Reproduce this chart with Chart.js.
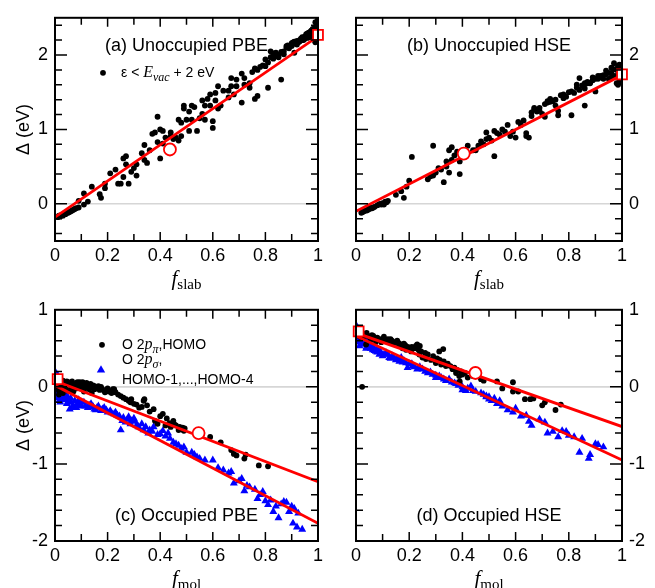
<!DOCTYPE html>
<html>
<head>
<meta charset="utf-8">
<script src="https://cdn.jsdelivr.net/npm/chart.js@4.4.0/dist/chart.umd.min.js"></script>
<style>
html, body { margin: 0; padding: 0; background: #fff; }
#wrap { position: relative; width: 655px; height: 588px; overflow: hidden; }
canvas { position: absolute; }
</style>
</head>
<body>
<div id="wrap">
  <canvas id="pa" width="327" height="290" style="left:0;top:0"></canvas>
  <canvas id="pb" width="327" height="290" style="left:328px;top:0"></canvas>
  <canvas id="pc" width="327" height="296" style="left:0;top:292px"></canvas>
  <canvas id="pd" width="327" height="296" style="left:328px;top:292px"></canvas>
</div>
<script>
// ---- data: [f, Delta (eV)] ----
const unoccPBE = [[0.01,-0.18],[0.02,-0.17],[0.025,-0.15],[0.03,-0.16],[0.035,-0.13],[0.04,-0.14],[0.045,-0.12],[0.05,-0.12],
  [0.06,-0.10],[0.065,-0.09],[0.075,-0.07],[0.08,-0.06],[0.09,0.04],[0.09,-0.05],[0.11,0.14],[0.11,-0.01],[0.125,0.03],
  [0.14,0.23],[0.17,0.13],[0.175,0.08],[0.19,0.21],[0.19,0.27],[0.21,0.41],[0.23,0.46],[0.24,0.27],[0.25,0.27],[0.26,0.36],
  [0.26,0.61],[0.27,0.64],[0.27,0.53],[0.28,0.27],[0.29,0.43],[0.3,0.48],[0.31,0.38],[0.31,0.53],[0.33,0.68],[0.34,0.79],
  [0.34,0.59],[0.35,0.55],[0.36,0.72],[0.37,0.94],[0.38,0.96],[0.39,1.17],[0.39,0.83],[0.4,0.61],[0.4,1.0],[0.41,0.98],
  [0.41,0.81],[0.42,0.89],[0.43,0.76],[0.44,0.96],[0.44,0.91],[0.45,0.87],[0.46,0.89],[0.47,1.13],[0.47,0.85],[0.48,0.91],
  [0.48,1.09],[0.49,1.32],[0.49,1.28],[0.5,1.13],[0.51,0.98],[0.51,1.24],[0.52,1.32],[0.52,1.13],[0.53,1.3],[0.54,0.98],
  [0.55,1.15],[0.56,1.21],[0.56,1.39],[0.57,1.13],[0.57,1.32],[0.58,1.41],[0.59,1.47],[0.59,1.32],[0.6,1.02],[0.6,1.11],
  [0.61,1.39],[0.61,1.49],[0.62,1.28],[0.62,1.58],[0.63,1.32],[0.64,1.52],[0.66,1.43],[0.66,1.52],[0.67,1.58],[0.67,1.69],
  [0.68,1.47],[0.69,1.58],[0.69,1.67],[0.71,1.75],[0.71,1.36],[0.72,1.6],[0.72,1.69],[0.74,1.56],[0.74,1.62],[0.75,1.77],
  [0.76,1.41],[0.76,1.82],[0.77,1.45],[0.78,1.84],[0.79,1.86],[0.8,1.94],[0.81,1.56],[0.81,1.9],[0.82,1.97],[0.82,2.05],
  [0.84,1.99],[0.84,2.03],[0.85,1.97],[0.86,1.67],[0.87,2.01],[0.87,2.05],[0.88,2.12],[0.89,2.09],[0.9,2.16],[0.91,2.03],
  [0.91,2.18],[0.92,2.14],[0.93,2.2],[0.94,2.24],[0.94,2.22],[0.95,2.25],[0.96,2.27],[0.96,2.29],[0.97,2.31],[0.97,2.24],
  [0.98,2.35],[0.98,2.28],[0.99,2.18],[0.99,2.44],[1.0,2.48],[0.99,2.27],[0.99,2.37],[0.985,2.32],[0.995,2.25],[0.975,2.3],
  [0.965,2.26],[0.955,2.24],[0.945,2.2],[0.925,2.17],[0.935,2.22],[0.88,2.1],[0.885,2.13],[0.9,2.12],[0.905,2.17],
  [0.915,2.15],[0.92,2.19],[0.93,2.18],[0.94,2.2],[0.95,2.22],[0.955,2.28],[0.96,2.23],[0.965,2.3],[0.97,2.27],[0.98,2.3],
  [0.985,2.25],[0.99,2.22],[0.995,2.3],[1.0,2.35],[1.0,2.42],[0.995,2.4],[0.99,2.17],[1.0,2.2],[0.975,2.33],[0.77,1.8],
  [0.8,1.85],[0.83,1.95],[0.85,2.0],[0.86,2.04],[0.83,2.02],[0.015,-0.16],[0.055,-0.11],[0.07,-0.08]];

const unoccHSE = [[0.02,-0.12],[0.03,-0.1],[0.03,-0.09],[0.04,-0.09],[0.05,-0.07],[0.05,-0.05],[0.06,-0.06],[0.07,-0.04],
  [0.08,-0.02],[0.085,-0.01],[0.09,0.0],[0.1,0.01],[0.105,-0.01],[0.11,0.03],[0.12,0.04],[0.15,0.12],[0.17,0.17],[0.18,0.08],
  [0.19,0.23],[0.2,0.31],[0.21,0.63],[0.27,0.33],[0.28,0.37],[0.29,0.78],[0.29,0.38],[0.3,0.42],[0.31,0.48],[0.32,0.46],
  [0.33,0.29],[0.34,0.5],[0.34,0.57],[0.35,0.42],[0.35,0.72],[0.36,0.76],[0.36,0.59],[0.37,0.65],[0.38,0.7],[0.39,0.4],
  [0.39,0.57],[0.42,0.78],[0.44,0.72],[0.45,0.72],[0.46,0.78],[0.47,0.84],[0.48,0.8],[0.49,0.96],[0.49,0.87],[0.5,0.89],
  [0.51,0.85],[0.52,0.64],[0.52,0.98],[0.53,0.95],[0.54,0.93],[0.55,1.0],[0.56,0.97],[0.57,1.06],[0.58,0.91],[0.59,0.97],
  [0.6,0.89],[0.61,1.1],[0.62,1.06],[0.63,1.12],[0.64,0.95],[0.64,0.91],[0.65,0.89],[0.66,1.18],[0.66,1.23],[0.67,1.27],
  [0.67,1.29],[0.68,1.24],[0.69,1.29],[0.69,1.25],[0.7,1.21],[0.71,1.17],[0.71,1.34],[0.72,1.38],[0.72,1.36],[0.74,1.38],
  [0.75,1.32],[0.76,1.25],[0.76,1.19],[0.77,1.46],[0.79,1.44],[0.81,1.19],[0.81,1.51],[0.82,1.49],[0.84,1.53],[0.84,1.69],
  [0.85,1.59],[0.86,1.55],[0.86,1.32],[0.87,1.62],[0.87,1.64],[0.89,1.66],[0.9,1.51],[0.91,1.68],[0.91,1.72],[0.92,1.7],
  [0.94,1.74],[0.94,1.79],[0.95,1.68],[0.96,1.76],[0.96,1.83],[0.97,1.89],[0.97,1.81],[0.98,1.62],[0.99,1.87],[0.99,1.64],
  [0.98,1.72],[0.93,1.73],[0.88,1.62],[0.83,1.56],[0.78,1.42],[0.73,1.37],[0.88,1.63],[0.9,1.68],[0.92,1.72],[0.93,1.68],
  [0.95,1.76],[0.96,1.7],[0.97,1.72],[0.98,1.8],[0.985,1.85],[0.99,1.78],[0.995,1.69],[1.0,1.82],[1.0,1.66],[0.985,1.6],
  [0.89,1.7],[0.86,1.62],[0.83,1.6],[0.8,1.5],[0.78,1.47],[0.75,1.4],[0.73,1.41],[0.025,-0.11],[0.045,-0.08],[0.065,-0.05],
  [0.095,-0.01],[0.115,0.02]];

const occPBEpi = [[0.005,0.05],[0.01,0.0],[0.015,-0.05],[0.02,0.03],[0.03,0.08],[0.035,0.02],[0.04,0.04],[0.05,0.06],
  [0.06,0.03],[0.075,0.03],[0.08,-0.02],[0.085,0.06],[0.094,0.06],[0.1,0.05],[0.11,0.01],[0.12,0.05],[0.125,0.03],
  [0.137,0.01],[0.14,0.0],[0.15,0.01],[0.156,-0.01],[0.16,-0.02],[0.13,-0.03],[0.1,-0.02],[0.06,-0.03],[0.04,-0.02],
  [0.02,-0.05],[0.18,-0.03],[0.187,-0.05],[0.19,-0.07],[0.2,-0.02],[0.22,-0.03],[0.225,-0.03],[0.23,-0.07],[0.25,-0.12],
  [0.27,-0.16],[0.287,-0.2],[0.29,-0.16],[0.3,-0.22],[0.32,-0.27],[0.337,-0.18],[0.34,-0.16],[0.35,-0.24],[0.36,-0.32],
  [0.375,-0.29],[0.38,-0.44],[0.39,-0.48],[0.41,-0.35],[0.42,-0.5],[0.425,-0.41],[0.44,-0.52],[0.45,-0.44],[0.46,-0.5],
  [0.47,-0.56],[0.474,-0.52],[0.48,-0.55],[0.49,-0.57],[0.493,-0.54],[0.59,-0.65],[0.63,-0.72],[0.67,-0.82],[0.68,-0.87],
  [0.69,-0.89],[0.72,-0.93],[0.725,-0.88],[0.775,-1.02],[0.81,-1.03],[0.0,0.1],[0.005,0.0],[0.01,0.06],[0.02,0.07],
  [0.03,0.04],[0.045,0.07],[0.055,0.04],[0.065,0.07],[0.07,0.01],[0.09,0.0],[0.095,0.04],[0.105,0.06],[0.115,0.03],
  [0.12,-0.01],[0.135,0.04],[0.145,0.02],[0.15,-0.03],[0.165,0.01],[0.17,-0.04],[0.175,0.0],[0.05,-0.05],[0.03,-0.08],
  [0.015,-0.1],[0.07,-0.06],[0.11,-0.06],[0.14,-0.08],[0.205,-0.06],[0.215,-0.08],[0.24,-0.1],[0.26,-0.14],[0.28,-0.18],
  [0.31,-0.23],[0.33,-0.26],[0.4,-0.38],[0.435,-0.47],[0.455,-0.49],[0.485,-0.53]];

const occPBEsigma = [[0.0,0.2],[0.0,0.1],[0.006,0.16],[0.006,-0.07],[0.01,0.15],[0.012,-0.14],[0.015,0.05],[0.025,-0.16],
  [0.025,0.08],[0.037,-0.12],[0.04,-0.1],[0.05,-0.2],[0.056,-0.29],[0.06,-0.15],[0.069,-0.24],[0.081,-0.27],[0.09,-0.17],
  [0.094,-0.24],[0.11,-0.2],[0.125,-0.27],[0.137,-0.22],[0.15,-0.29],[0.16,-0.27],[0.175,-0.31],[0.187,-0.27],[0.2,-0.33],
  [0.21,-0.31],[0.225,-0.35],[0.237,-0.37],[0.25,-0.56],[0.256,-0.44],[0.268,-0.46],[0.28,-0.39],[0.287,-0.48],[0.3,-0.41],
  [0.31,-0.5],[0.318,-0.52],[0.337,-0.56],[0.36,-0.56],[0.375,-0.52],[0.4,-0.61],[0.41,-0.57],[0.437,-0.67],[0.45,-0.72],
  [0.47,-0.76],[0.49,-0.78],[0.5,-0.85],[0.52,-0.85],[0.54,-0.91],[0.57,-0.95],[0.6,-0.95],[0.64,-1.08],[0.67,-1.1],
  [0.68,-1.25],[0.71,-1.19],[0.72,-1.35],[0.74,-1.3],[0.76,-1.33],[0.77,-1.45],[0.79,-1.36],[0.8,-1.48],[0.81,-1.53],
  [0.82,-1.47],[0.83,-1.62],[0.84,-1.55],[0.85,-1.7],[0.87,-1.49],[0.88,-1.5],[0.89,-1.62],[0.9,-1.55],[0.905,-1.77],
  [0.91,-1.58],[0.92,-1.82],[0.925,-1.64],[0.94,-1.85],[0.0,0.15],[0.0,0.0],[0.0,-0.1],[0.005,0.12],[0.01,-0.02],
  [0.015,-0.18],[0.02,0.0],[0.02,-0.2],[0.03,-0.06],[0.035,-0.17],[0.045,-0.22],[0.05,-0.14],[0.06,-0.2],[0.065,-0.27],
  [0.075,-0.18],[0.085,-0.22],[0.1,-0.25],[0.1,-0.2],[0.115,-0.25],[0.13,-0.24],[0.145,-0.26],[0.155,-0.3],[0.165,-0.25],
  [0.18,-0.29],[0.195,-0.3],[0.215,-0.34],[0.23,-0.33],[0.245,-0.38],[0.26,-0.4],[0.275,-0.42],[0.29,-0.44],[0.305,-0.45],
  [0.33,-0.48],[0.345,-0.52],[0.355,-0.6],[0.37,-0.58],[0.39,-0.62],[0.42,-0.64],[0.43,-0.6],[0.46,-0.74],[0.48,-0.8],
  [0.53,-0.88],[0.55,-0.93],[0.62,-1.05],[0.66,-1.12],[0.7,-1.22],[0.73,-1.28],[0.78,-1.4],[0.86,-1.52]];

const occHSEpi = [[0.005,0.75],[0.01,0.7],[0.015,0.65],[0.023,0.0],[0.025,0.65],[0.03,0.66],[0.038,0.55],[0.04,0.7],
  [0.05,0.65],[0.056,0.61],[0.065,0.66],[0.075,0.59],[0.088,0.61],[0.1,0.62],[0.105,0.65],[0.113,0.61],[0.125,0.59],
  [0.13,0.62],[0.138,0.57],[0.15,0.57],[0.155,0.6],[0.163,0.53],[0.175,0.5],[0.18,0.56],[0.188,0.48],[0.2,0.5],
  [0.207,0.46],[0.225,0.53],[0.23,0.55],[0.238,0.42],[0.24,0.53],[0.25,0.38],[0.263,0.36],[0.282,0.35],[0.3,0.31],
  [0.313,0.46],[0.32,0.29],[0.328,0.49],[0.338,0.27],[0.363,0.23],[0.376,0.18],[0.388,0.14],[0.39,0.07],[0.4,0.16],
  [0.42,0.12],[0.44,0.14],[0.47,0.1],[0.48,0.08],[0.53,0.07],[0.55,-0.02],[0.59,0.06],[0.59,-0.06],[0.61,-0.06],
  [0.635,-0.16],[0.655,-0.16],[0.667,-0.15],[0.7,-0.24],[0.71,-0.2],[0.75,-0.3],[0.77,-0.23],[0.01,0.72],[0.02,0.7],
  [0.03,0.69],[0.045,0.66],[0.06,0.67],[0.07,0.63],[0.08,0.64],[0.09,0.62],[0.095,0.58],[0.11,0.6],[0.12,0.62],
  [0.135,0.6],[0.145,0.58],[0.16,0.57],[0.17,0.55],[0.185,0.54],[0.195,0.52],[0.21,0.52],[0.22,0.5],[0.235,0.48],
  [0.245,0.46],[0.26,0.44],[0.27,0.42],[0.29,0.4],[0.305,0.37],[0.315,0.35],[0.33,0.33],[0.345,0.3],[0.355,0.27],
  [0.37,0.25],[0.38,0.22],[0.395,0.2],[0.41,0.18]];

const occHSEsigma = [[0.0,0.8],[0.006,0.7],[0.01,0.62],[0.013,0.53],[0.02,0.6],[0.025,0.59],[0.03,0.63],[0.038,0.5],
  [0.05,0.55],[0.06,0.53],[0.063,0.48],[0.075,0.46],[0.08,0.5],[0.088,0.42],[0.1,0.4],[0.113,0.44],[0.125,0.38],
  [0.138,0.4],[0.15,0.35],[0.163,0.33],[0.17,0.38],[0.188,0.31],[0.194,0.25],[0.213,0.27],[0.23,0.23],[0.25,0.23],
  [0.27,0.18],[0.288,0.16],[0.3,0.12],[0.313,0.14],[0.338,0.08],[0.35,0.1],[0.376,0.04],[0.4,0.0],[0.4,-0.04],
  [0.413,-0.05],[0.432,0.01],[0.44,-0.05],[0.49,-0.12],[0.49,-0.13],[0.5,-0.16],[0.51,-0.18],[0.53,-0.22],[0.54,-0.18],
  [0.55,-0.25],[0.57,-0.3],[0.59,-0.33],[0.6,-0.28],[0.62,-0.38],[0.64,-0.37],[0.65,-0.45],[0.66,-0.5],[0.69,-0.42],
  [0.71,-0.46],[0.72,-0.6],[0.74,-0.58],[0.76,-0.65],[0.775,-0.57],[0.79,-0.58],[0.8,-0.63],[0.82,-0.65],[0.84,-0.85],
  [0.85,-0.67],[0.875,-0.93],[0.88,-0.88],[0.9,-0.74],[0.91,-0.75],[0.93,-0.78],[0.0,0.72],[0.005,0.65],[0.01,0.58],
  [0.015,0.63],[0.02,0.55],[0.03,0.57],[0.04,0.52],[0.045,0.6],[0.055,0.5],[0.065,0.52],[0.07,0.47],[0.08,0.45],
  [0.09,0.47],[0.095,0.43],[0.105,0.42],[0.12,0.42],[0.13,0.37],[0.14,0.38],[0.155,0.37],[0.165,0.36],[0.175,0.32],
  [0.18,0.34],[0.2,0.3],[0.21,0.3],[0.22,0.26],[0.24,0.26],[0.26,0.2],[0.28,0.19],[0.3,0.15],[0.32,0.12],[0.33,0.1],
  [0.36,0.06],[0.37,0.05],[0.385,0.02],[0.42,-0.02],[0.45,-0.06],[0.47,-0.08],[0.48,-0.1],[0.5,-0.13],[0.52,-0.15]];

// linear fits (end points) and the red reference markers
const fitUnoccPBE = [[0, -0.18], [1, 2.25]];
const fitUnoccHSE = [[0, -0.10], [1, 1.73]];
const fitOccPBEpi = [[0, 0.08], [1, -1.23]];
const fitOccPBEsigma = [[0, 0.02], [1, -1.77]];
const fitOccHSEpi = [[0, 0.70], [1, -0.515]];
const fitOccHSEsigma = [[0, 0.66], [1, -0.95]];
const circleMarks = { a: [0.437, 0.73], b: [0.405, 0.675], c: [0.546, -0.6], d: [0.449, 0.18] };
const squareMarks = { a: [1.0, 2.27], b: [1.0, 1.74], c: [0.01, 0.1], d: [0.01, 0.72] };

// ticks
const xLabels = [0, 0.2, 0.4, 0.6, 0.8, 1];
const xTickPos = [0.1, 0.2, 0.3, 0.4, 0.5, 0.6, 0.7, 0.8, 0.9];
const yLabelsUnocc = [0, 1, 2];
const yTickPosUnocc = [-0.4, -0.2, 0, 0.2, 0.4, 0.6, 0.8, 1, 1.2, 1.4, 1.6, 1.8, 2, 2.2, 2.4];
const yLabelsOcc = [-2, -1, 0, 1];
const yTickPosOcc = [-1.8, -1.6, -1.4, -1.2, -1, -0.8, -0.6, -0.4, -0.2, 0, 0.2, 0.4, 0.6, 0.8];

const SANS = '"Liberation Sans", Arial, sans-serif';
const SERIF = '"Liberation Serif", "Times New Roman", serif';
const RED = '#ff0000';
const BLUE = '#0000ff';

const pts = arr => arr.map(p => ({ x: p[0], y: p[1] }));

function drawRuns(ctx, x, y, runs, align) {
  let w = 0;
  runs.forEach(r => { ctx.font = r.font; r.w = ctx.measureText(r.t).width; w += r.w; });
  let cx = align === 'center' ? x - w / 2 : x;
  ctx.textBaseline = 'alphabetic';
  ctx.textAlign = 'left';
  runs.forEach(r => { ctx.font = r.font; ctx.fillText(r.t, cx, y + (r.dy || 0)); cx += r.w; });
}

function dot(ctx, x, y) {
  ctx.fillStyle = '#000';
  ctx.beginPath(); ctx.arc(x, y, 2.9, 0, Math.PI * 2); ctx.fill();
}
function tri(ctx, x, y) {
  ctx.fillStyle = BLUE;
  ctx.beginPath(); ctx.moveTo(x, y - 4.6); ctx.lineTo(x + 4.2, y + 2.6); ctx.lineTo(x - 4.2, y + 2.6); ctx.closePath(); ctx.fill();
}

// frame, inward ticks, zero line and the texts inside each panel
function deco(cfg) {
  return {
    id: 'deco',
    beforeDatasetsDraw(chart) {
      const { ctx, chartArea: a, scales: { y } } = chart;
      const y0 = y.getPixelForValue(0);
      ctx.save();
      ctx.strokeStyle = '#d6d6d6'; ctx.lineWidth = 1.6;
      ctx.beginPath(); ctx.moveTo(a.left, y0); ctx.lineTo(a.right, y0); ctx.stroke();
      ctx.restore();
    },
    afterDraw(chart) {
      const { ctx, chartArea: a, scales: { x, y } } = chart;
      ctx.save();
      ctx.strokeStyle = '#000';
      ctx.lineWidth = 1.5;
      ctx.beginPath();
      xTickPos.forEach(v => {
        const px = x.getPixelForValue(v);
        const len = Math.abs(v * 5 - Math.round(v * 5)) < 1e-6 ? 9 : 7;
        ctx.moveTo(px, a.bottom); ctx.lineTo(px, a.bottom - len);
        ctx.moveTo(px, a.top); ctx.lineTo(px, a.top + len);
      });
      cfg.yTicks.forEach(v => {
        const py = y.getPixelForValue(v);
        const len = Math.abs(v - Math.round(v)) < 1e-6 ? 12 : 7;
        ctx.moveTo(a.left, py); ctx.lineTo(a.left + len, py);
        ctx.moveTo(a.right, py); ctx.lineTo(a.right - len, py);
      });
      ctx.stroke();
      ctx.lineWidth = 2;
      ctx.strokeRect(a.left, a.top, a.right - a.left, a.bottom - a.top);

      ctx.fillStyle = '#000';
      const cx = (a.left + a.right) / 2;
      const ty = cfg.titleTop ? a.top + 33 : a.bottom - 20;
      drawRuns(ctx, cx, ty, [{ t: cfg.title, font: '18px ' + SANS }], 'center');
      drawRuns(ctx, cx, a.bottom + 44, [
        { t: 'f', font: 'italic 21px ' + SERIF },
        { t: cfg.sub, font: '15px ' + SERIF, dy: 4 }
      ], 'center');
      if (cfg.legend) cfg.legend(ctx, a);
      ctx.restore();
    }
  };
}

function legendA(ctx, a) {
  dot(ctx, a.left + 48, a.top + 55);
  ctx.fillStyle = '#000';
  drawRuns(ctx, a.left + 66, a.top + 59, [
    { t: 'ε < ', font: '14px ' + SANS },
    { t: 'E', font: 'italic 16px ' + SERIF },
    { t: 'vac', font: 'italic 12px ' + SERIF, dy: 4 },
    { t: ' + 2 eV', font: '14px ' + SANS }
  ]);
}
function legendC(ctx, a) {
  dot(ctx, a.left + 47, a.top + 35);
  tri(ctx, a.left + 46, a.top + 60);
  ctx.fillStyle = '#000';
  drawRuns(ctx, a.left + 67, a.top + 39, [
    { t: 'O 2', font: '14px ' + SANS },
    { t: 'p', font: 'italic 16px ' + SERIF },
    { t: 'π', font: 'italic 12px ' + SERIF, dy: 4 },
    { t: ',HOMO', font: '14px ' + SANS }
  ]);
  drawRuns(ctx, a.left + 67, a.top + 54, [
    { t: 'O 2', font: '14px ' + SANS },
    { t: 'p', font: 'italic 16px ' + SERIF },
    { t: 'σ', font: 'italic 12px ' + SERIF, dy: 4 },
    { t: ',', font: '14px ' + SANS }
  ]);
  drawRuns(ctx, a.left + 67, a.top + 74, [{ t: 'HOMO-1,...,HOMO-4', font: '14px ' + SANS }]);
}

function fitSet(line) {
  return { data: pts(line), showLine: true, borderColor: RED, borderWidth: 2.8, pointRadius: 0, fill: false };
}
function markSet(p, style, r) {
  return { data: pts([p]), pointStyle: style, pointRadius: r, pointBorderColor: RED, pointBackgroundColor: '#fff',
    pointBorderWidth: 1.8, clip: false };
}
function dotSet(arr) {
  return { data: pts(arr), pointStyle: 'circle', pointRadius: 2.9, pointBackgroundColor: '#000', pointBorderWidth: 0 };
}
function triSet(arr) {
  return { data: pts(arr), pointStyle: 'triangle', pointRadius: 4.6, pointBackgroundColor: BLUE, pointBorderWidth: 0 };
}

function makePanel(id, cfg) {
  const tickFont = { family: SANS, size: 18 };
  new Chart(document.getElementById(id), {
    type: 'scatter',
    data: { datasets: cfg.datasets },
    options: {
      responsive: false,
      animation: false,
      events: [],
      layout: { padding: cfg.pad },
      plugins: { legend: { display: false }, tooltip: { enabled: false } },
      scales: {
        x: {
          type: 'linear', position: 'bottom', min: 0, max: 1,
          afterBuildTicks: s => { s.ticks = xLabels.map(v => ({ value: v })); },
          afterFit: s => { s.height = cfg.xHeight; },
          grid: { display: false, drawTicks: false },
          border: { display: false },
          ticks: { font: tickFont, color: '#000', padding: 4, maxRotation: 0, autoSkip: false, callback: v => String(v) }
        },
        y: {
          type: 'linear', position: cfg.ySide, min: cfg.yMin, max: cfg.yMax,
          afterBuildTicks: s => { s.ticks = cfg.yLabels.map(v => ({ value: v })); },
          afterFit: s => { s.width = cfg.yWidth; },
          grid: { display: false, drawTicks: false },
          border: { display: false },
          ticks: { font: tickFont, color: '#000', padding: 7, autoSkip: false, callback: v => String(v) },
          title: {
            display: cfg.ySide === 'left', text: 'Δ (eV)', color: '#000',
            font: { family: SANS, size: 18 }, padding: { top: 13, bottom: 0 }
          }
        }
      }
    },
    plugins: [deco(cfg)]
  });
}

makePanel('pa', {
  title: '(a) Unoccupied PBE', titleTop: true, sub: 'slab', legend: legendA,
  pad: { top: 7, right: 5, left: 0, bottom: 0 }, xHeight: 49, ySide: 'left', yWidth: 55,
  yMin: -0.5, yMax: 2.5, yLabels: yLabelsUnocc, yTicks: yTickPosUnocc,
  datasets: [markSet(squareMarks.a, 'rect', 7), markSet(circleMarks.a, 'circle', 6), fitSet(fitUnoccPBE), dotSet(unoccPBE)]
});
makePanel('pb', {
  title: '(b) Unoccupied HSE', titleTop: true, sub: 'slab',
  pad: { top: 7, right: 0, left: 28, bottom: 0 }, xHeight: 49, ySide: 'right', yWidth: 33,
  yMin: -0.5, yMax: 2.5, yLabels: yLabelsUnocc, yTicks: yTickPosUnocc,
  datasets: [markSet(squareMarks.b, 'rect', 7), markSet(circleMarks.b, 'circle', 6), fitSet(fitUnoccHSE), dotSet(unoccHSE)]
});
makePanel('pc', {
  title: '(c) Occupied PBE', titleTop: false, sub: 'mol', legend: legendC,
  pad: { top: 16, right: 5, left: 0, bottom: 0 }, xHeight: 47, ySide: 'left', yWidth: 55,
  yMin: -2, yMax: 1, yLabels: yLabelsOcc, yTicks: yTickPosOcc,
  datasets: [markSet(squareMarks.c, 'rect', 7), markSet(circleMarks.c, 'circle', 6), fitSet(fitOccPBEpi),
    fitSet(fitOccPBEsigma), dotSet(occPBEpi), triSet(occPBEsigma)]
});
makePanel('pd', {
  title: '(d) Occupied HSE', titleTop: false, sub: 'mol',
  pad: { top: 16, right: 0, left: 28, bottom: 0 }, xHeight: 47, ySide: 'right', yWidth: 33,
  yMin: -2, yMax: 1, yLabels: yLabelsOcc, yTicks: yTickPosOcc,
  datasets: [markSet(squareMarks.d, 'rect', 7), markSet(circleMarks.d, 'circle', 6), fitSet(fitOccHSEpi),
    fitSet(fitOccHSEsigma), dotSet(occHSEpi), triSet(occHSEsigma)]
});
</script>
</body>
</html>
